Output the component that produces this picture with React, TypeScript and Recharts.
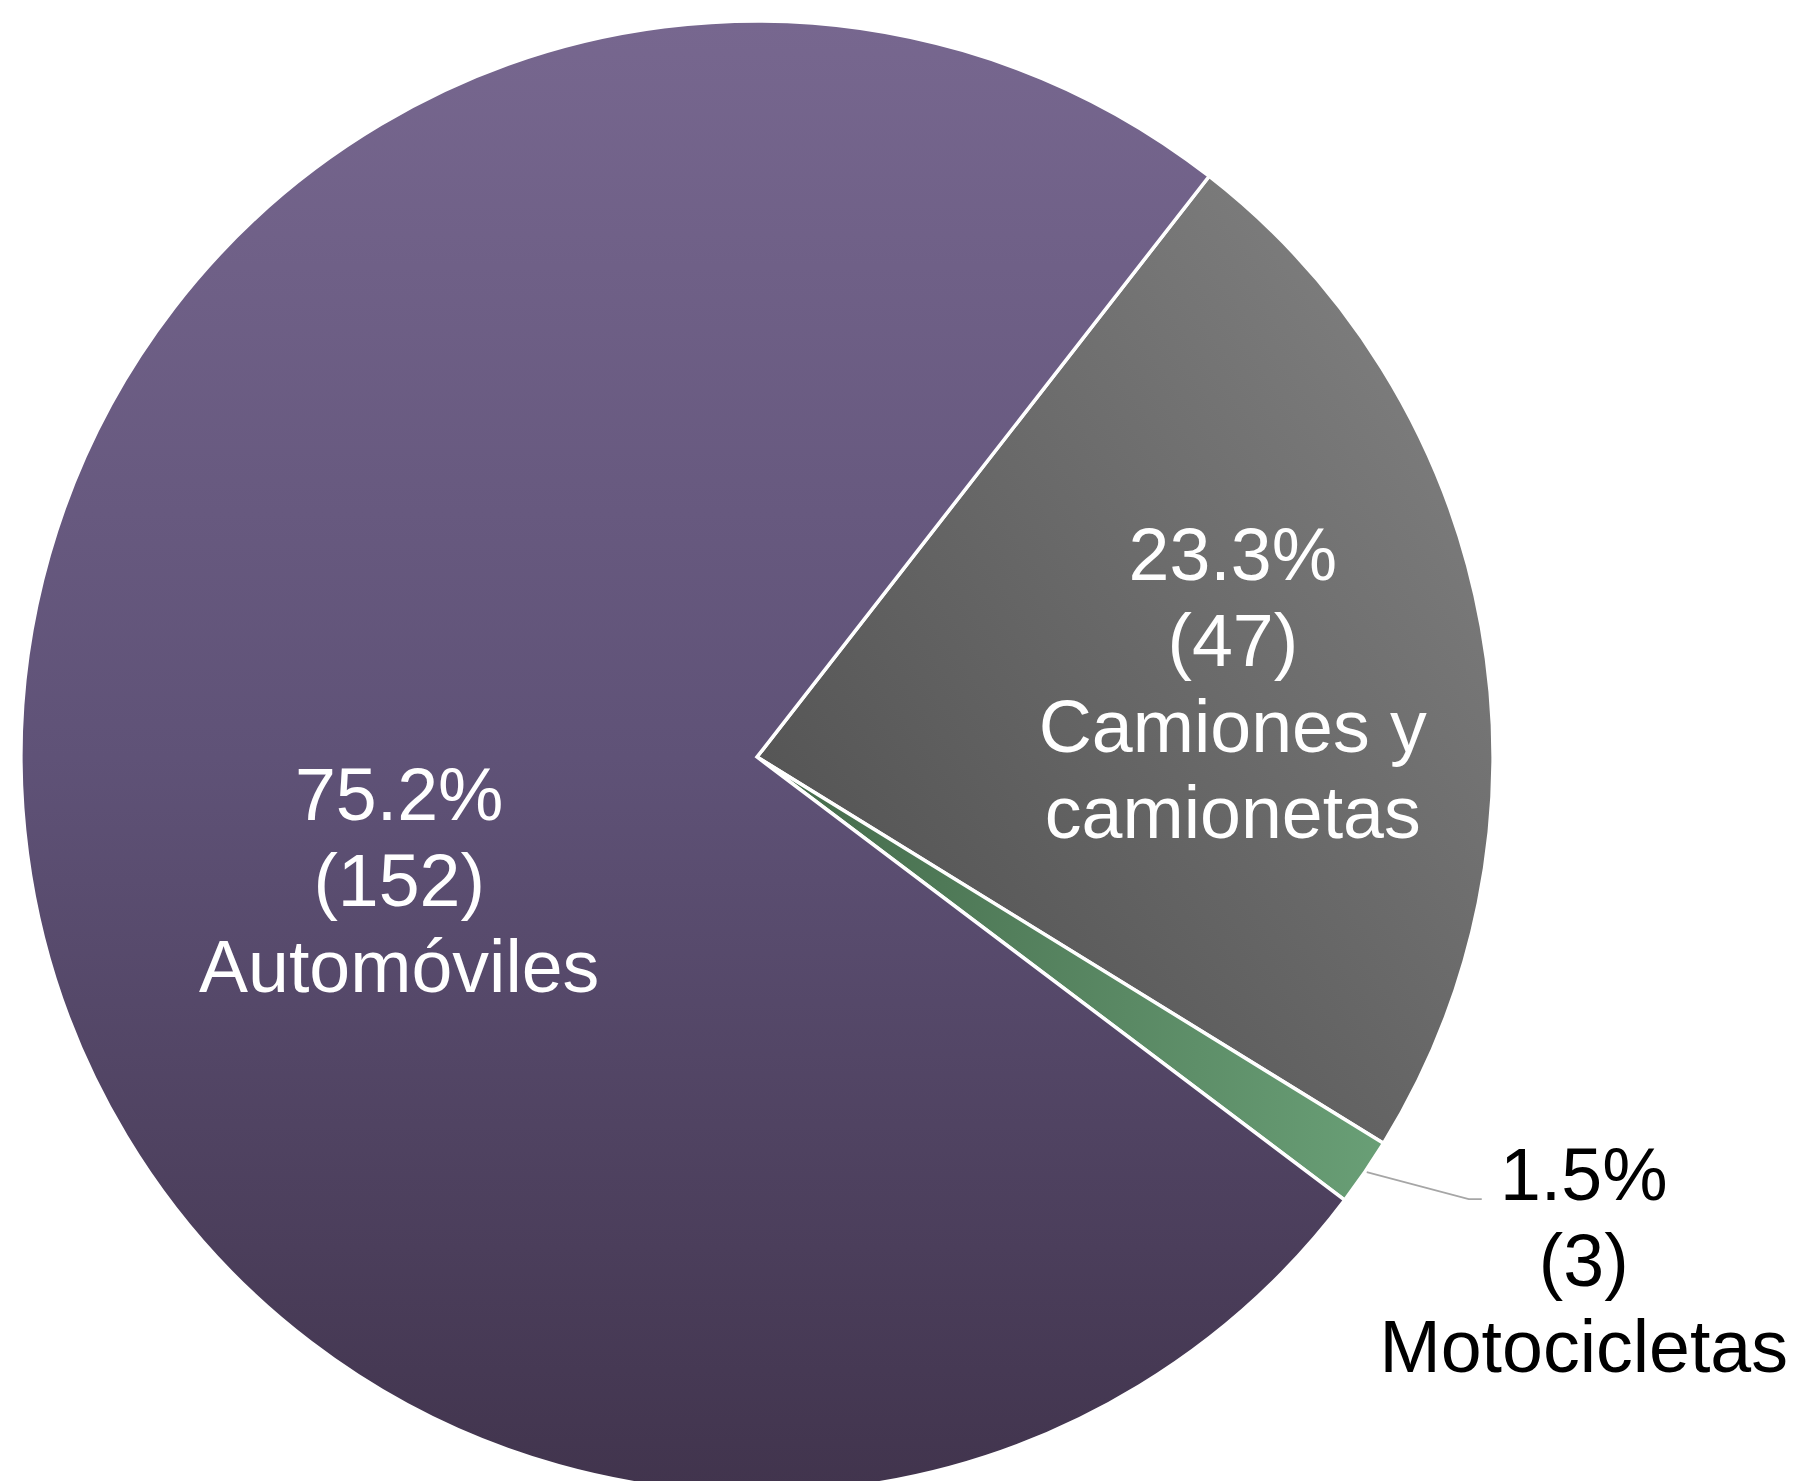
import React from 'react';
import { PieChart, Pie, Cell } from 'recharts';

// ---- data ----
const CATEGORIES = ['Camiones y camionetas', 'Motocicletas', 'Automóviles'];
const LABEL_LINES = [['Camiones y', 'camionetas'], ['Motocicletas'], ['Automóviles']];
const COUNTS = [47, 3, 152];

const data = CATEGORIES.map((name, i) => ({ name, value: COUNTS[i] }));
const TOTAL = COUNTS.reduce((a, b) => a + b, 0);

// ---- layout / style ----
const W = 1798;
const H = 1481;
const CX = 757;
const CY = 757;
const R = 736;
const START = 52.1;
const FONT = '"Liberation Sans", Arial, sans-serif';
const FS = 73.5;
const LH = 86;
const CAP = FS * 0.716;
const FILLS = ['url(#gradGray)', 'url(#gradGreen)', 'url(#gradPurple)'];

const LAYOUT = [
  { ratio: 0.65, ox: 5, oy: 11, color: '#ffffff', leader: false },
  { ratio: 1.0, ox: 219, oy: 88, color: '#000000', leader: true },
  { ratio: 0.5, ox: 7, oy: 74, color: '#ffffff', leader: false },
];

const renderLabel = (props: any) => {
  const { cx, cy, midAngle, outerRadius, index, value } = props;
  const L = LAYOUT[index];
  const rad = (-midAngle * Math.PI) / 180;
  const ax = cx + outerRadius * L.ratio * Math.cos(rad);
  const ay = cy + outerRadius * L.ratio * Math.sin(rad);
  const bx = ax + L.ox;
  const by = ay + L.oy;
  const lines = [`${((value / TOTAL) * 100).toFixed(1)}%`, `(${value})`, ...LABEL_LINES[index]];
  const first = by - ((lines.length - 1) * LH) / 2 + CAP / 2;
  let leader = null;
  if (L.leader) {
    const ex = ax + 104;
    const ey = ay + 27;
    leader = (
      <polyline
        points={`${ax + 2},${ay} ${ex},${ey} ${ex + 13},${ey}`}
        fill="none"
        stroke="#a6a6a6"
        strokeWidth={1.6}
      />
    );
  }
  return (
    <g key={`lbl-${index}`}>
      {leader}
      <text
        x={bx}
        y={first}
        textAnchor="middle"
        fill={L.color}
        fontFamily={FONT}
        fontSize={FS}
      >
        {lines.map((t, i) => (
          <tspan key={i} x={bx} y={first + i * LH}>
            {t}
          </tspan>
        ))}
      </text>
    </g>
  );
};

export default function App() {
  return (
    <div style={{ position: 'absolute', left: 0, top: 0, width: W, height: H, background: '#fff' }}>
      <PieChart width={W} height={H} margin={{ top: 0, right: 0, bottom: 0, left: 0 }}>
        <defs>
          <linearGradient id="gradPurple" x1="0" y1="0" x2="0" y2="1">
            <stop offset="0" stopColor="#77678f" />
            <stop offset="0.5" stopColor="#5f5277" />
            <stop offset="1" stopColor="#41344d" />
          </linearGradient>
          <linearGradient id="gradGray" x1="0" y1="1" x2="1" y2="0">
            <stop offset="0" stopColor="#4a4a4a" />
            <stop offset="1" stopColor="#858585" />
          </linearGradient>
          <linearGradient id="gradGreen" x1="0" y1="0" x2="1" y2="0">
            <stop offset="0" stopColor="#44694a" />
            <stop offset="1" stopColor="#699f76" />
          </linearGradient>
        </defs>
        <Pie
          data={data}
          dataKey="value"
          nameKey="name"
          cx={CX}
          cy={CY}
          outerRadius={R}
          innerRadius={0}
          startAngle={START}
          endAngle={START - 360}
          stroke="#ffffff"
          strokeWidth={3.5}
          labelLine={false}
          label={renderLabel}
          isAnimationActive={false}
        >
          {data.map((d, i) => (
            <Cell key={d.name} fill={FILLS[i]} />
          ))}
        </Pie>
      </PieChart>
    </div>
  );
}
